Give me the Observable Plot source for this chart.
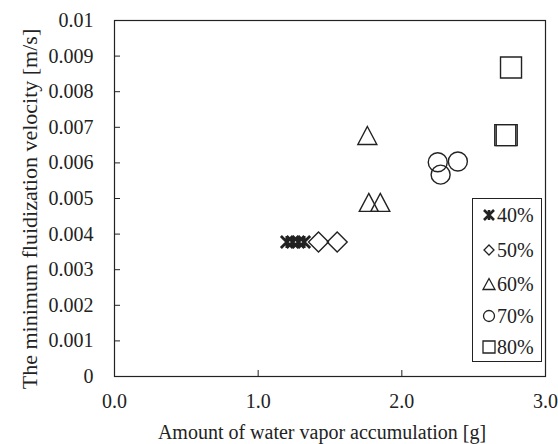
<!DOCTYPE html>
<html><head><meta charset="utf-8">
<script src="https://cdn.jsdelivr.net/npm/d3@7"></script>
<script src="https://cdn.jsdelivr.net/npm/@observablehq/plot@0.6"></script>
<style>body{margin:0;background:#fff;}</style>
</head><body><div id="chart"></div>
<script>
// ---- data ----
const seriesNames = ["40%", "50%", "60%", "70%", "80%"];
const x40 = [1.20, 1.24, 1.28, 1.32];
const y40 = [0.00378, 0.00378, 0.00378, 0.00378];
const x50 = [1.42, 1.55];
const y50 = [0.00378, 0.00378];
const x60 = [1.76, 1.77, 1.85];
const y60 = [0.00677, 0.00489, 0.00489];
const x70 = [2.25, 2.39, 2.27];
const y70 = [0.00602, 0.00604, 0.00567];
const x80 = [2.72, 2.73, 2.76];
const y80 = [0.00678, 0.00678, 0.00868];
const xTicks = [0, 1, 2, 3];
const yTicks = [0, 0.001, 0.002, 0.003, 0.004, 0.005, 0.006, 0.007, 0.008, 0.009, 0.01];
const xLabel = "Amount of water vapor accumulation [g]";
const yLabel = "The minimum fluidization velocity [m/s]";

const rows = (xs, ys, s) => xs.map((x, i) => ({x, y: ys[i], series: s}));
const data = [
  rows(x40, y40, seriesNames[0]),
  rows(x50, y50, seriesNames[1]),
  rows(x60, y60, seriesNames[2]),
  rows(x70, y70, seriesNames[3]),
  rows(x80, y80, seriesNames[4])
];

// ---- symbols ----
function mkSymbol(kind, w, hgt) {
  const hh = (hgt ?? w) / 2, h = w / 2;
  return {draw(ctx) {
    switch (kind) {
      case "asterisk":
        ctx.moveTo(-h, -h); ctx.lineTo(h, h);
        ctx.moveTo(-h, h); ctx.lineTo(h, -h);
        ctx.moveTo(0, -h); ctx.lineTo(0, h); break;
      case "diamond":
        ctx.moveTo(0, -h); ctx.lineTo(h, 0); ctx.lineTo(0, h); ctx.lineTo(-h, 0); ctx.closePath(); break;
      case "triangle":
        ctx.moveTo(0, -hh); ctx.lineTo(h, hh); ctx.lineTo(-h, hh); ctx.closePath(); break;
      case "circle":
        ctx.moveTo(h, 0); ctx.arc(0, 0, h, 0, 2 * Math.PI); break;
      case "square":
        ctx.rect(-h, -h, w, w); break;
    }
  }};
}
const bigSyms = [mkSymbol("asterisk", 12), mkSymbol("diamond", 20), mkSymbol("triangle", 19, 18), mkSymbol("circle", 19), mkSymbol("square", 21)];
const smallSyms = [mkSymbol("asterisk", 10), mkSymbol("diamond", 10), mkSymbol("triangle", 12, 11), mkSymbol("circle", 11), mkSymbol("square", 12)];
const ink = "#222";
const serif = "Liberation Serif, DejaVu Serif, serif";

const marks = data.map((d, i) => Plot.dot(d, {
  x: "x", y: "y", symbol: bigSyms[i], r: 8,
  fill: "none", stroke: ink, strokeWidth: i === 0 ? 2.8 : 1.4
}));

const chart = Plot.plot({
  width: 558, height: 444,
  marginLeft: 114, marginRight: 13, marginTop: 20, marginBottom: 68,
  style: {fontFamily: serif, fontSize: "20px", background: "white", color: ink},
  x: {domain: [0, 3], ticks: xTicks, tickFormat: d3.format(".1f"), tickSize: -6, tickPadding: 23, label: null},
  y: {domain: [0, 0.01], ticks: yTicks, tickFormat: d => String(+d.toFixed(3)), tickSize: -6, tickPadding: 27, label: null},
  marks: [
    Plot.frame({stroke: ink, strokeWidth: 1.2}),
    ...marks
  ]
});
document.getElementById("chart").appendChild(chart);

const svg = d3.select(chart);
svg.append("text").attr("x", 322).attr("y", 439).attr("text-anchor", "middle")
  .attr("font-size", 20).attr("fill", ink).text(xLabel);
svg.append("text").attr("transform", "translate(37,209) rotate(-90)").attr("text-anchor", "middle")
  .attr("font-size", 22).attr("fill", ink).text(yLabel);

// legend
const lg = svg.append("g");
lg.append("rect").attr("x", 472.5).attr("y", 198.5).attr("width", 69).attr("height", 163)
  .attr("fill", "white").attr("stroke", ink).attr("stroke-width", 1);
const legendY = [215, 250, 284, 316, 347];
seriesNames.forEach((name, i) => {
  const cy = legendY[i];
  lg.append("path").attr("d", d3.symbol(smallSyms[i])()).attr("transform", `translate(489,${cy})`)
    .attr("fill", "none").attr("stroke", ink).attr("stroke-width", i === 0 ? 2.6 : 1.3);
  lg.append("text").attr("x", 497).attr("y", cy).attr("dy", "0.35em").attr("text-anchor", "start")
    .attr("font-size", 20).attr("fill", ink).text(name);
});
svg.selectAll("text").attr("font-family", serif).style("font-family", serif);
</script></body></html>
